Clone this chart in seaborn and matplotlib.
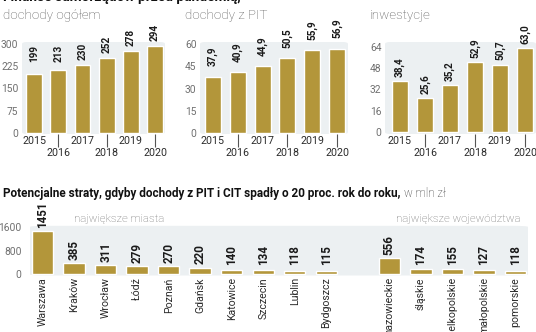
import matplotlib
matplotlib.use("Agg")
import matplotlib.pyplot as plt
import matplotlib.transforms as mtransforms
from matplotlib import font_manager as fm
from matplotlib.patches import FancyBboxPatch
import numpy as np
import pandas as pd
import seaborn as sns

# --- data -------------------------------------------------------------------
years = ["2015", "2016", "2017", "2018", "2019", "2020"]
dochody_ogolem = [199, 213, 230, 252, 278, 294]
dochody_pit = [37.9, 40.9, 44.9, 50.5, 55.9, 56.9]
inwestycje = [38.4, 25.6, 35.2, 52.9, 50.7, 63.0]

miasta = ["Warszawa", "Kraków", "Wrocław", "Łódź", "Poznań", "Gdańsk",
          "Katowice", "Szczecin", "Lublin", "Bydgoszcz"]
straty_miasta = [1451, 385, 311, 279, 270, 220, 140, 134, 118, 115]
wojewodztwa = ["mazowieckie", "śląskie", "wielkopolskie", "małopolskie", "pomorskie"]
straty_woj = [556, 174, 155, 127, 118]

# --- style ------------------------------------------------------------------
GOLD = "#b3963a"
PANEL = "#ecf0f2"
DARK = "#2b2b2b"
GREY = "#707070"

sns.set_theme(style="white")
plt.rcParams["font.family"] = ["Roboto", "DejaVu Sans"]

available = {f.name for f in fm.fontManager.ttflist}
if "Liberation Sans Narrow" in available:
    NUM_FONT, NUM_SIZE, TITLE_FONT, SCALE = "Liberation Sans Narrow", 8.7, "Liberation Sans Narrow", 1.0
else:
    NUM_FONT, NUM_SIZE, TITLE_FONT, SCALE = "Roboto", 7.2, "Roboto", 0.85

W, H = 536, 332
fig = plt.figure(figsize=(W / 100, H / 100), dpi=100)
fig.patch.set_facecolor("white")


def px_axes(left, right, top, bottom):
    """Axes placed by pixel edges (origin at the top-left corner)."""
    return fig.add_axes([left / W, 1 - bottom / H, (right - left) / W, (bottom - top) / H])


def panel_background(ax):
    ax.patch.set_visible(False)
    bg = FancyBboxPatch((0, 0), 1, 1, boxstyle="round,pad=0,rounding_size=0.035",
                        transform=ax.transAxes, facecolor=PANEL, edgecolor="none",
                        zorder=0, clip_on=False, mutation_aspect=0.6)
    ax.add_patch(bg)


def fmt(v):
    return f"{v:.1f}".replace(".", ",") if isinstance(v, float) else str(v)


def year_panel(ax, values, yticks, ylim, xlim, floor, offset_pt, title, title_x):
    panel_background(ax)
    sns.barplot(x=years, y=values, color=GOLD, saturation=1, width=0.65, ax=ax, zorder=2)
    ax.set_xlim(*xlim)
    ax.set_ylim(*ylim)
    ax.set_xlabel("")
    ax.set_ylabel("")
    sns.despine(ax=ax, left=True, bottom=True)
    ax.set_yticks(yticks)
    ax.set_yticklabels([str(t) for t in yticks])
    ax.tick_params(axis="y", length=0, pad=2.5, labelsize=7.4, labelcolor=GREY)
    # odd years just below the axis, even years one row lower behind a tick mark
    ax.set_xticks([0, 2, 4], labels=years[0::2])
    ax.set_xticks([1, 3, 5], labels=years[1::2], minor=True)
    ax.tick_params(axis="x", which="major", length=0, pad=1.8, labelsize=7.7, labelcolor=DARK)
    ax.tick_params(axis="x", which="minor", length=9.2, width=0.8, color="#555555",
                   direction="out", bottom=True, pad=0.6, labelsize=7.7, labelcolor=DARK)
    for i, v in enumerate(values):
        ax.annotate(fmt(v), (i, max(v, floor)), xytext=(0, offset_pt), textcoords="offset points",
                    rotation=90, ha="center", va="bottom", fontfamily=NUM_FONT,
                    fontweight="bold", fontsize=NUM_SIZE, color="#1a1a1a")
    fig.text(title_x / W, 1 - 15 / H, title, fontsize=9.6, fontweight="light",
             color="#555555", va="center", ha="left")


ax1 = px_axes(22, 165, 42, 134)
year_panel(ax1, dochody_ogolem, [0, 75, 150, 225, 300], (-3.37, 306.7), (-0.5, 5.41),
           222, 3.6, "dochody ogółem", 3)

ax2 = px_axes(200, 348, 42, 134)
year_panel(ax2, dochody_pit, [0, 15, 30, 45, 60], (-0.674, 61.35), (-0.52, 5.44),
           0, 7.5, "dochody z PIT", 185)

ax3 = px_axes(385, 536, 42, 134)
year_panel(ax3, inwestycje, [0, 16, 32, 48, 64], (-1.506, 67.76), (-0.6, 5.44),
           0, 3.0, "inwestycje", 370)

# --- losses by city / voivodeship ------------------------------------------
axb = px_axes(30, 528, 225.8, 275.5)
panel_background(axb)
straty = pd.DataFrame({"nazwa": miasta + wojewodztwa, "straty": straty_miasta + straty_woj})
order = miasta + [" "] + wojewodztwa
sns.barplot(data=straty, x="nazwa", y="straty", order=order, color=GOLD, saturation=1,
            width=0.68, ax=axb, zorder=2)
axb.set_xlim(-0.4, 15.4)
axb.set_ylim(-51, 1641)
axb.set_xlabel("")
axb.set_ylabel("")
sns.despine(ax=axb, left=True, bottom=True)
axb.set_yticks([0, 800, 1600])
axb.set_yticklabels(["0", "800", "1600"])
axb.tick_params(axis="y", length=0, pad=6, labelsize=7.4, labelcolor=GREY)
axb.set_xticks(range(len(order)))
axb.set_xticklabels(order, rotation=90)
axb.tick_params(axis="x", length=0, pad=1.2, labelsize=7.6, labelcolor=DARK)

lookup = dict(zip(straty["nazwa"], straty["straty"]))
for i, name in enumerate(order):
    if name in lookup:
        v = lookup[name]
        axb.annotate(str(v), (i, max(v, 200)), xytext=(0, 2.2), textcoords="offset points",
                     rotation=90, ha="center", va="bottom", fontfamily=NUM_FONT,
                     fontweight="bold", fontsize=NUM_SIZE * 1.16, color="#1a1a1a")

grp = mtransforms.blended_transform_factory(axb.transData, axb.transAxes)
axb.text(1.0, 1.14, "największe miasta", transform=grp, fontsize=8.2, fontweight="light",
         color=GREY, ha="left", va="center")
axb.text(11.2, 1.14, "największe województwa", transform=grp, fontsize=8.2,
         fontweight="light", color=GREY, ha="left", va="center")

# --- headings: bold part followed by the unit in regular weight --------------
renderer = fig.canvas.get_renderer()


def heading(x_px, baseline_px, bold, regular, size):
    t = fig.text(x_px / W, 1 - baseline_px / H, bold, fontfamily=TITLE_FONT,
                 fontweight="bold", fontsize=size, color="#111111", va="baseline")
    bb = t.get_window_extent(renderer)
    fig.text((bb.x1 + 4) / W, 1 - baseline_px / H, regular, fontsize=size * 0.98,
             fontweight="light", color="#333333", va="baseline")


heading(3, 0.5, "Finanse samorządów przed pandemią,", "w mln zł", 11.6 * SCALE)
heading(3, 197, "Potencjalne straty, gdyby dochody z PIT i CIT spadły o 20 proc. rok do roku,",
        "w mln zł", 10.0 * SCALE)

fig.savefig("out.png", dpi=100, facecolor="white")
